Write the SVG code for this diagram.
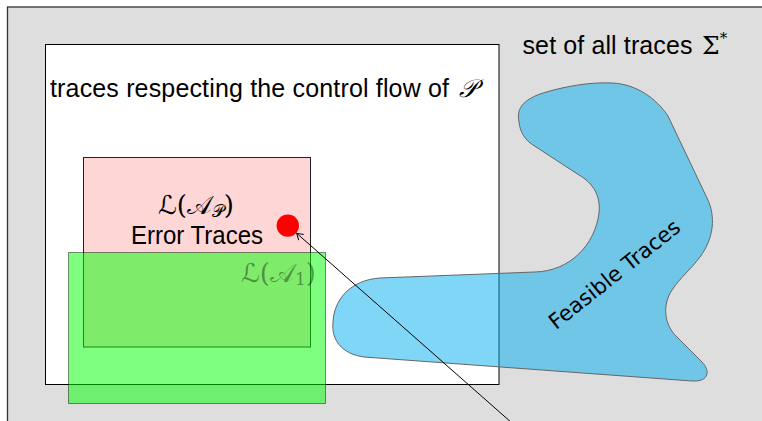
<svg xmlns="http://www.w3.org/2000/svg" width="762" height="421" viewBox="0 0 762 421">
<style>
.lbl{font-family:"Liberation Sans",Arial,sans-serif;font-size:25px;fill:#000}
.math{font-family:"DejaVu Serif","DejaVu Sans","Noto Sans",serif;fill:#000}
.feas{font-family:"DejaVu Sans",sans-serif;font-size:21.3px;fill:#000}
</style>
<defs>
<marker id="arr" markerUnits="userSpaceOnUse" markerWidth="12" markerHeight="12" refX="0" refY="0" viewBox="-8 -6 10 12" orient="auto" overflow="visible">
<path d="M-6,-3.8 L0,0 L-6,3.8" fill="none" stroke="#000" stroke-width="1"/>
</marker>
</defs>
<g id="universe">
<rect x="7.5" y="7" width="800" height="450" fill="#dedede" stroke="#333" stroke-width="1.3"/>
<text class="lbl" x="522.5" y="53.5" textLength="170" lengthAdjust="spacing">set of all traces</text>
<text class="math" x="702" y="53.5" font-size="25">Σ<tspan dy="-11" font-size="15">*</tspan></text>
</g>
<g id="controlflow">
<rect x="45.5" y="44.5" width="453.5" height="340" fill="#fff" stroke="#000" stroke-width="1"/>
<text class="lbl" x="50" y="97" textLength="399" lengthAdjust="spacing">traces respecting the control flow of</text>
<text class="math" x="459" y="97" font-size="25" font-style="italic">𝒫</text>
</g>
<g id="errortraces">
<rect x="83.5" y="157.5" width="227" height="189.5" fill="#ffd6d6" stroke="#222" stroke-width="1"/>
<text class="math" x="196" y="214" font-size="26" text-anchor="middle">ℒ(𝒜<tspan font-size="17" dy="3">𝒫</tspan><tspan dy="-3">)</tspan></text>
<text class="lbl" x="197" y="243.5" text-anchor="middle" textLength="132" lengthAdjust="spacingAndGlyphs">Error Traces</text>
<circle cx="287.8" cy="225.6" r="11.2" fill="#ff0000"/>
</g>
<g id="a1">
<rect x="68.5" y="252.5" width="257" height="151" fill="#00ff00" fill-opacity="0.5" stroke="#000" stroke-opacity="0.45" stroke-width="1"/>
<text class="math" x="241" y="282" font-size="26" fill-opacity="0.4">ℒ(𝒜<tspan font-size="17" dy="3">1</tspan><tspan dy="-3">)</tspan></text>
</g>
<g id="feasible">
<path d="M519,122 C516,108 524,100 540,94 C565,86 590,82 612,83 C636,84 656,98 668,116 L707,198 C716,216 714,238 700,257 C690,270 680,278 672,290 C662,305 664,325 677,337 L702,362 C710,370 710,382 692,381 L364,357 C342,354 331,340 333,322 C334,300 350,280 380,278 L535,272 C570,271 595,245 599,213 C601,196 593,183 579,175 L533,145 C525,140 520,132 519,122 Z" fill="#00aeef" fill-opacity="0.5" stroke="#666" stroke-width="1"/>
<text class="feas" x="0" y="0" text-anchor="middle" transform="translate(619,280) rotate(-38.5)">Feasible Traces</text>
</g>
<g id="connectors">
<line x1="512" y1="423" x2="296.7" y2="233.3" stroke="#000" stroke-width="1" marker-end="url(#arr)"/>
</g>
</svg>
